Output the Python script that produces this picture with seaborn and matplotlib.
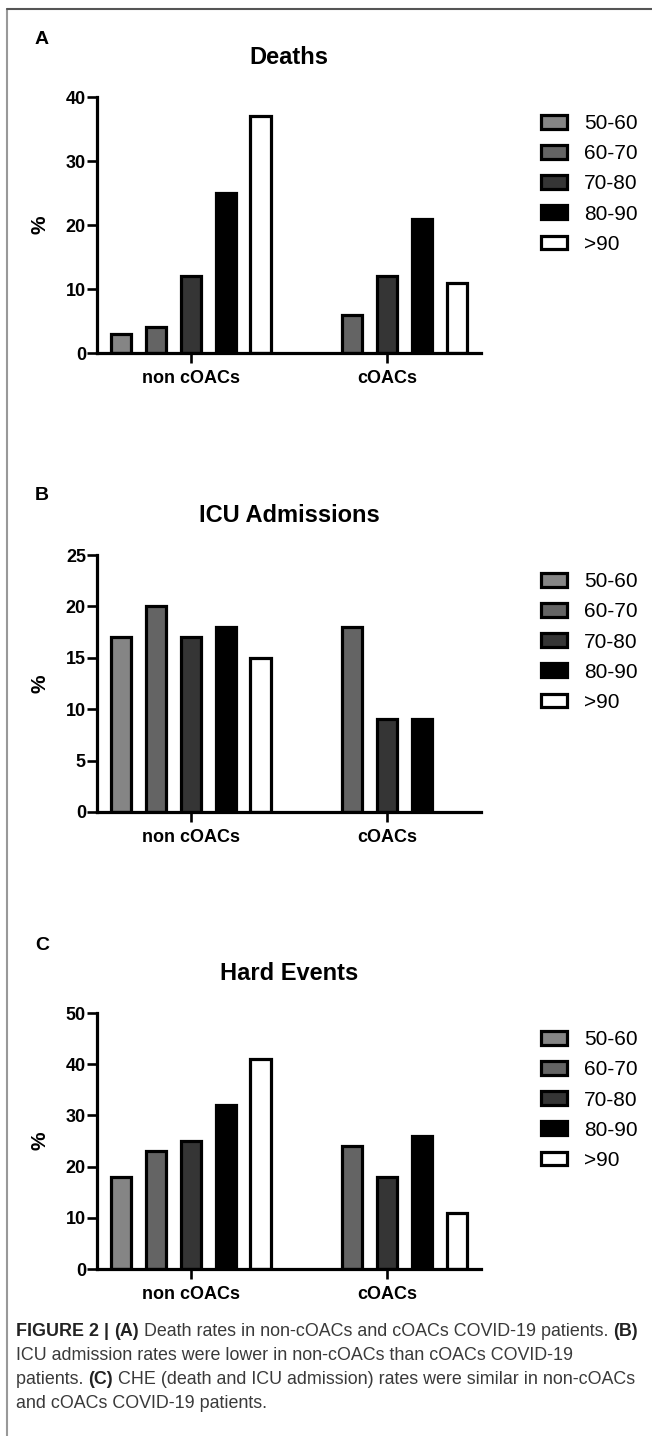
import matplotlib
matplotlib.use('Agg')
import matplotlib.pyplot as plt
import pandas as pd
import seaborn as sns
from matplotlib import font_manager
from matplotlib.lines import Line2D
from matplotlib.patches import Patch

# Data (% of patients per age band)
groups = ['non cOACs', 'cOACs']
ages = ['50-60', '60-70', '70-80', '80-90', '>90']
age_colors = ['#858585', '#646464', '#353535', '#000000', '#ffffff']

deaths_non = [3, 4, 12, 25, 37]
deaths_coac = [0, 6, 12, 21, 11]
icu_non = [17, 20, 17, 18, 15]
icu_coac = [0, 18, 9, 9, 0]
hard_non = [18, 23, 25, 32, 41]
hard_coac = [0, 24, 18, 26, 11]

panels = [
    ('A', 'Deaths', deaths_non, deaths_coac, 40, 10),
    ('B', 'ICU Admissions', icu_non, icu_coac, 25, 5),
    ('C', 'Hard Events', hard_non, hard_coac, 50, 10),
]

sns.set_style('ticks')
plt.rcParams['font.family'] = ['Liberation Sans', 'DejaVu Sans']
plt.rcParams['text.color'] = 'black'

# narrow face for the caption, if the system has it
try:
    font_manager.findfont(font_manager.FontProperties(family='Liberation Sans Narrow'),
                          fallback_to_default=False)
    cap_family = ['Liberation Sans Narrow', 'Liberation Sans']
except Exception:
    cap_family = ['Liberation Sans', 'DejaVu Sans']

W, H = 652, 1436
fig = plt.figure(figsize=(W / 100, H / 100), dpi=100)

# pixel boxes of each axes: top, bottom ; letter y
ax_left, ax_right = 97, 481
tops = [97, 555, 1013]
bottoms = [353, 812, 1269]
letter_y = [40, 495, 946]


def fx(px):
    return px / W


def fy(py):
    return 1 - py / H


palette = dict(zip(ages, age_colors))

for i, (letter, title, non, coac, ymax, ystep) in enumerate(panels):
    top, bottom = tops[i], bottoms[i]
    ax = fig.add_axes([fx(ax_left), fy(bottom), (ax_right - ax_left) / W, (bottom - top) / H])

    df = pd.DataFrame({
        'group': [groups[0]] * 5 + [groups[1]] * 5,
        'age': ages * 2,
        'value': non + coac,
    })
    df = df[df['value'] > 0]

    sns.barplot(data=df, x='group', y='value', hue='age', order=groups,
                hue_order=ages, palette=palette, width=0.888, gap=0.42,
                edgecolor='black', linewidth=2.3, errorbar=None,
                legend=False, ax=ax)

    ax.set_xlim(-0.477, 1.477)
    ax.set_ylim(0, ymax)
    ax.set_yticks(range(0, ymax + 1, ystep))
    sns.despine(ax=ax)
    for s in ['left', 'bottom']:
        ax.spines[s].set_linewidth(2.3)
        ax.spines[s].set_color('black')
    ax.tick_params(axis='both', length=7, width=1.9, color='black',
                   labelsize=13, labelcolor='black')
    ax.tick_params(axis='y', pad=1)
    ax.tick_params(axis='x', pad=5, labelsize=13)
    for lab in ax.get_xticklabels() + ax.get_yticklabels():
        lab.set_fontweight('bold')
    ax.set_xlabel('')
    ax.set_ylabel('')

    # title, panel letter, y label
    fig.text(fx((ax_left + ax_right) / 2), fy(top - 40), title, ha='center',
             va='center', fontsize=17, fontweight='bold', color='black')
    fig.text(fx(42), fy(letter_y[i]), letter, ha='center', va='center',
             fontsize=14, fontweight='bold', color='black')
    fig.text(fx(40), fy((top + bottom) / 2), '%', ha='center', va='center',
             rotation=90, fontsize=15, fontweight='bold', color='black')

    handles = [Patch(facecolor=c, edgecolor='black', linewidth=2.3) for c in age_colors]
    leg = fig.legend(handles, ages, loc='center left',
                     bbox_to_anchor=(fx(541), fy(top + 87)), bbox_transform=fig.transFigure,
                     frameon=False, fontsize=15, handlelength=1.25, handleheight=0.62,
                     handletextpad=0.8, labelspacing=0.53, borderpad=0, borderaxespad=0)
    for t in leg.get_texts():
        t.set_color('black')

# frame lines of the figure page
fig.add_artist(Line2D([fx(7), fx(7)], [0, fy(9)], transform=fig.transFigure,
                      color='#999999', lw=1.5))
fig.add_artist(Line2D([fx(7), 1], [fy(9), fy(9)], transform=fig.transFigure,
                      color='#555555', lw=1.5))

# caption with bold runs
caption = [
    [('FIGURE 2 | ', True), ('(A)', True), (' Death rates in non-cOACs and cOACs COVID-19 patients. ', False), ('(B)', True)],
    [('ICU admission rates were lower in non-cOACs than cOACs COVID-19', False)],
    [('patients. ', False), ('(C)', True), (' CHE (death and ICU admission) rates were similar in non-cOACs', False)],
    [('and cOACs COVID-19 patients.', False)],
]
renderer = fig.canvas.get_renderer()


def draw_runs(runs, x0, y0, size, draw=True):
    x = x0
    made = []
    for s, bold in runs:
        t = fig.text(fx(x), fy(y0), s, fontsize=size, ha='left', va='baseline',
                     family=cap_family, fontweight='bold' if bold else 'normal',
                     color='#222222' if bold else '#3a3a3a')
        x += t.get_window_extent(renderer).width
        made.append(t)
    if not draw:
        for t in made:
            t.remove()
    return x - x0


base = 12
w1 = draw_runs(caption[0], 16, 1336, base, draw=False)
cap_size = base * 624 / w1
for k, runs in enumerate(caption):
    draw_runs(runs, 16, 1336 + 24 * k, cap_size)

fig.savefig('out.png', dpi=100)
